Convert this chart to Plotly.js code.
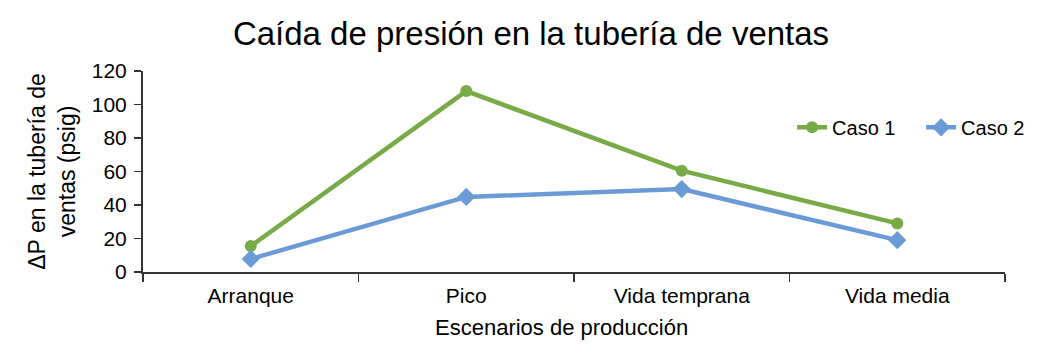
<!DOCTYPE html>
<html>
<head>
<meta charset="utf-8">
<script src="https://cdn.plot.ly/plotly-3.0.1.min.js"></script>
<style>html,body{margin:0;padding:0;background:#fff;}#chart{width:1062px;height:352px;}</style>
</head>
<body>
<div id="chart"></div>
<script>
const categories = ["Arranque", "Pico", "Vida temprana", "Vida media"];
const caso1 = [15.5, 108, 60.5, 29];
const caso2 = [7.8, 44.8, 49.5, 19];
const seriesNames = ["Caso 1", "Caso 2"];

const font = "Liberation Sans, Arial, sans-serif";
const traces = [
  {x: categories, y: caso1, name: seriesNames[0], type: "scatter", mode: "lines+markers",
   line: {color: "#78aa48", width: 4.5}, marker: {symbol: "circle", size: 12, color: "#78aa48"}},
  {x: categories, y: caso2, name: seriesNames[1], type: "scatter", mode: "lines+markers",
   line: {color: "#6b9bd6", width: 4.5}, marker: {symbol: "diamond", size: 14, color: "#6b9bd6"}}
];
const layout = {
  width: 1062, height: 352,
  margin: {l: 143, r: 40, t: 71, b: 80},
  paper_bgcolor: "#fff", plot_bgcolor: "#fff",
  font: {family: font, color: "#000", size: 21},
  title: {text: "Caída de presión en la tubería de ventas", font: {size: 33, family: font}, x: 0.5, xanchor: "center", y: 0.905, yanchor: "middle"},
  xaxis: {type: "category", tickson: "boundaries", ticks: "outside", ticklen: 8, tickcolor: "#333", tickwidth: 1.5,
    showline: true, linecolor: "#333", linewidth: 2, showgrid: false, zeroline: false,
    range: [-0.5, 3.5], tickfont: {size: 21}, ticklabelstandoff: 4},
  yaxis: {range: [0, 120], dtick: 20, ticks: "outside", ticklen: 7, tickcolor: "#333", tickwidth: 1.5,
    showline: true, linecolor: "#333", linewidth: 2, showgrid: false, zeroline: false, tickfont: {size: 21},
    ticklabelstandoff: 3,
    title: {text: "ΔP en la tubería de<br>ventas (psig)", font: {size: 23}, standoff: 10}},
  annotations: [{text: "Escenarios de producción", xref: "paper", yref: "paper", x: 0.485, y: -0.275,
    xanchor: "center", yanchor: "middle", showarrow: false, font: {size: 22}}],
  showlegend: true,
  legend: {orientation: "h", x: 0.753, y: 0.72, xanchor: "left", yanchor: "middle", font: {size: 20},
    bgcolor: "rgba(0,0,0,0)", entrywidth: 84, entrywidthmode: "pixels"}
};
Plotly.newPlot("chart", traces, layout, {displayModeBar: false, staticPlot: true});
</script>
</body>
</html>
